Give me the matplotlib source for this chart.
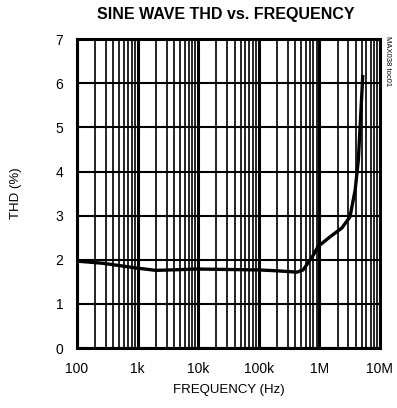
import matplotlib.pyplot as plt
import numpy as np

# THD curve
frequency_hz = [
    100, 270, 1e3, 2e3, 1e4, 1e5, 2e5, 4.3e5, 5.4e5, 6.5e5, 7.6e5,
    9.5e5, 1.5e6, 2.35e6, 3.2e6, 3.9e6, 4.4e6, 5.2e6,
]
thd_percent = [
    1.97, 1.92, 1.81, 1.76, 1.79, 1.77, 1.75, 1.72, 1.77, 1.93, 2.06,
    2.3, 2.52, 2.72, 2.97, 3.58, 4.26, 6.15,
]
x_tick_values = [1e2, 1e3, 1e4, 1e5, 1e6, 1e7]
x_tick_labels = ["100", "1k", "10k", "100k", "1M", "10M"]
y_tick_values = [0, 1, 2, 3, 4, 5, 6, 7]

font = ["Liberation Sans", "DejaVu Sans"]

figure = plt.figure(figsize=(3.97, 4.08), dpi=100)
axis = figure.add_axes([0.194, 0.147, 0.763, 0.757])

# grid: every 1..9 within a decade, decades heavier
for decade in x_tick_values[:-1]:
    for step in range(2, 10):
        axis.axvline(decade * step, color="black", linewidth=1.2, zorder=1)
    axis.axvline(decade, color="black", linewidth=2.2, zorder=1)
for value in y_tick_values:
    axis.axhline(value, color="black", linewidth=1.5, zorder=1)

axis.plot(frequency_hz, thd_percent, color="black", linewidth=2.4, zorder=3)

axis.set_xscale("log")
axis.set_xlim(1e2, 1e7)
axis.set_ylim(0, 7)
axis.set_xticks(x_tick_values, labels=x_tick_labels)
axis.set_yticks(y_tick_values)
axis.minorticks_off()
axis.tick_params(length=0, pad=10, labelsize=10)
for label in axis.get_xticklabels() + axis.get_yticklabels():
    label.set_family(font)
for spine in axis.spines.values():
    spine.set_linewidth(2.2)

axis.set_xlabel("FREQUENCY (Hz)", family=font, fontsize=9.5, labelpad=6)
axis.set_ylabel("THD (%)", family=font, fontsize=9.5, labelpad=24)

figure.text(0.570, 0.965, "SINE WAVE THD vs. FREQUENCY", ha="center",
            va="center", family=font, fontsize=11.5, fontweight="heavy")
figure.text(0.977, 0.85, "MAX038 toc01", rotation=-90, ha="center",
            va="center", family=font, fontsize=5.5)

figure.savefig("out.png", dpi=100)
